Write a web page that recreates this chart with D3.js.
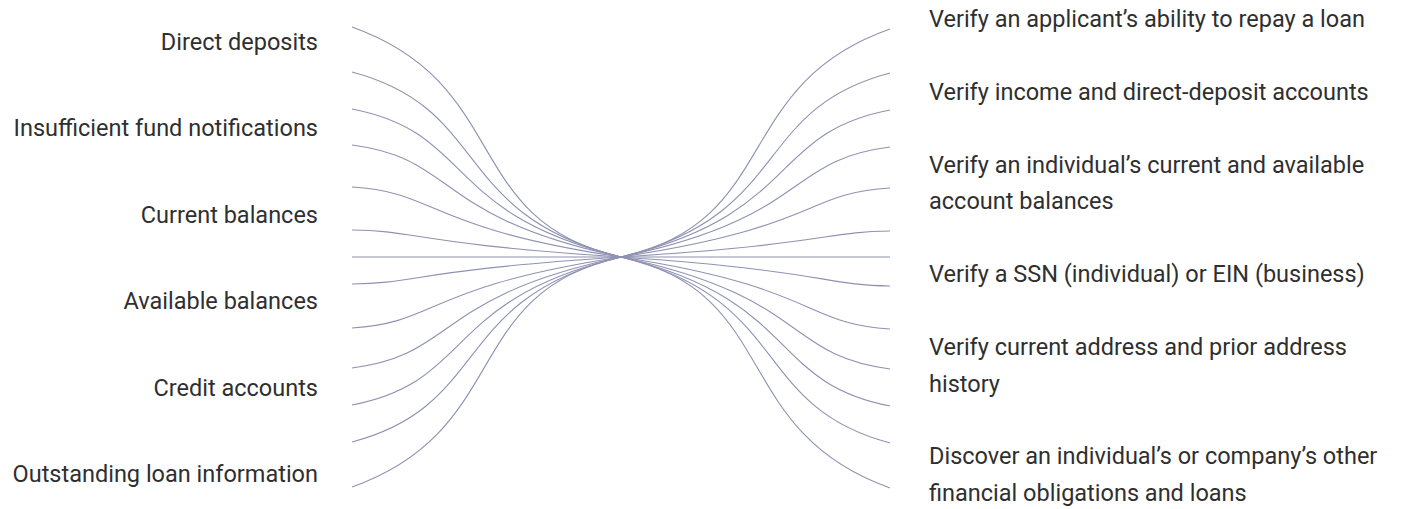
<!DOCTYPE html>
<html lang="en">
<head>
<meta charset="utf-8">
<title>Data to uses</title>
<script src="https://d3js.org/d3.v7.min.js"></script>
<style>
  body { margin: 0; background: #fff; }
  text { font-family: Roboto, "Noto Sans", sans-serif; fill: #2f2f2f; }
</style>
</head>
<body>
<svg id="chart" width="1401" height="509"></svg>
<script>
// data
var leftLabels = ["Direct deposits", "Insufficient fund notifications", "Current balances",
                  "Available balances", "Credit accounts", "Outstanding loan information"];
var rightLabels = [
  ["Verify an applicant\u2019s ability to repay a loan"],
  ["Verify income and direct-deposit accounts"],
  ["Verify an individual\u2019s current and available", "account balances"],
  ["Verify a SSN (individual) or EIN (business)"],
  ["Verify current address and prior address", "history"],
  ["Discover an individual\u2019s or company\u2019s other", "financial obligations and loans"]
];
// end offsets of the strands (relative to the crossing point), left and right
var leftEnds  = [-230, -185, -148, -112, -70, -27, 0, 27, 71, 111, 148, 185, 230];
var rightEnds = [-228, -184, -147, -110, -69, -26, 0, 29, 72, 112, 149, 186, 231];

var svg = d3.select("#chart");
var x = d3.scaleLinear().domain([-1, 1]).range([352, 890]);
var y = d3.scaleLinear().domain([-250, 250]).range([7, 507]);
var maxOff = d3.max(leftEnds, Math.abs);

// one strand from an end to the crossing point, as a cubic bezier
function strand(side, off) {
  var x0 = x(side), y0 = y(off), x1 = x(0), y1 = y(0);
  var k = Math.abs(off) / maxOff;
  var dx = x1 - x0, dy = y1 - y0;
  var a = 0.2 + 0.4 * k, b = 0.25 * k;        // first handle
  var c = 0.2 + 0.2 * k, e = 0.45 + 0.394 * k; // second handle
  var p = d3.path();
  p.moveTo(x0, y0);
  p.bezierCurveTo(x0 + a * dx, y0 + b * dy, x0 + c * dx, y0 + e * dy, x1, y1);
  return p.toString();
}

var g = svg.append("g").attr("fill", "none").attr("stroke", "#8e92b2").attr("stroke-width", 1.1);
g.selectAll("path.l").data(leftEnds).join("path").attr("class", "l")
  .attr("d", function(d) { return strand(-1, d); });
g.selectAll("path.r").data(rightEnds).join("path").attr("class", "r")
  .attr("d", function(d) { return strand(1, d); });

var fs = 23.5;

// left labels
var ly = d3.scalePoint().domain(leftLabels).range([50, 482]);
svg.append("g").selectAll("text").data(leftLabels).join("text")
  .attr("x", 318).attr("y", function(d) { return ly(d); })
  .attr("text-anchor", "end").attr("font-size", fs)
  .text(function(d) { return d; });

// right labels, stacked top to bottom
var lineH = 36.7, gap = 72.8, base = 27;
var rg = svg.append("g");
rightLabels.forEach(function(lines) {
  var t = rg.append("text").attr("x", 929).attr("y", base).attr("font-size", fs);
  lines.forEach(function(s, i) {
    t.append("tspan").attr("x", 929).attr("dy", i ? lineH : 0).text(s);
  });
  base += (lines.length - 1) * lineH + gap;
});
</script>
</body>
</html>
